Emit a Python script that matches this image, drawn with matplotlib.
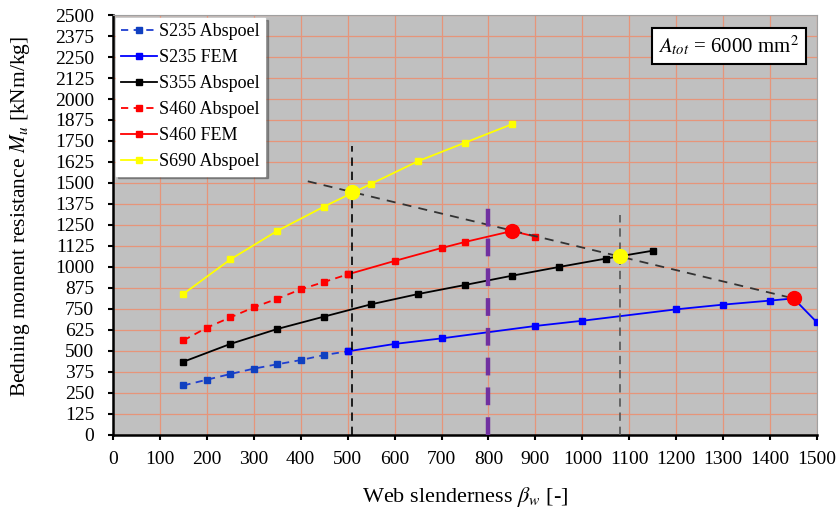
import matplotlib
matplotlib.use("Agg")
import matplotlib.pyplot as plt

plt.rcParams['font.family'] = ['Liberation Serif', 'DejaVu Serif']
plt.rcParams['mathtext.fontset'] = 'stix'

# --- data ---
s235_abs_x = [150, 200, 250, 300, 350, 400, 450, 500]
s235_abs_y = [295, 329, 363, 395, 421, 446, 476, 498]
s235_fem_x = [500, 600, 700, 900, 1000, 1200, 1300, 1400, 1450, 1500]
s235_fem_y = [498, 542, 575, 649, 680, 748, 776, 800, 813, 670]
s355_abs_x = [150, 250, 350, 450, 550, 650, 750, 850, 950, 1050, 1150]
s355_abs_y = [436, 542, 631, 705, 778, 839, 893, 948, 1000, 1050, 1097]
s460_abs_x = [150, 200, 250, 300, 350, 400, 450, 500]
s460_abs_y = [563, 639, 700, 760, 811, 867, 911, 956]
s460_fem_x = [500, 600, 700, 750, 850, 900]
s460_fem_y = [956, 1036, 1113, 1149, 1214, 1181]
s690_abs_x = [150, 250, 350, 450, 550, 650, 750, 850]
s690_abs_y = [840, 1045, 1215, 1360, 1495, 1630, 1740, 1850]

# optimum points (big circles)
opt_red_x = [850, 1450]
opt_red_y = [1214, 813]
opt_yel_x = [510, 1080]
opt_yel_y = [1445, 1063]

# limit line through the optima
limit_x = [415, 1450]
limit_y = [1510, 813]

# vertical markers
vline1_x, vline1_top = 510, 1720
vline2_x, vline2_top = 1080, 1310
vline3_x, vline3_top = 800, 1395

x_ticks = list(range(0, 1501, 100))
y_ticks = list(range(0, 2501, 125))

fig = plt.figure(figsize=(8.39, 5.12), dpi=100)
ax = fig.add_axes([0.1347, 0.1504, 0.8391, 0.8203])
ax.set_facecolor('#C0C0C0')

ax.set_xlim(0, 1500)
ax.set_ylim(0, 2500)
ax.set_xticks(x_ticks)
ax.set_yticks(y_ticks)
ax.grid(True, color='#E6957A', linewidth=0.9)
ax.set_axisbelow(True)

ms = 4.5
ax.plot(s235_abs_x, s235_abs_y, color='#1F3FD0', ls=(0, (4, 3)), lw=1.3,
        marker='s', ms=ms, mfc='#1040C0', mec='#1040C0', label='S235 Abspoel', zorder=3)
ax.plot(s235_fem_x, s235_fem_y, color='#0000FF', ls='-', lw=1.3,
        marker='s', ms=ms, label='S235 FEM', zorder=3)
ax.plot(s355_abs_x, s355_abs_y, color='black', ls='-', lw=1.3,
        marker='s', ms=ms, label='S355 Abspoel', zorder=3)
ax.plot(s460_abs_x, s460_abs_y, color='#FF0000', ls=(0, (4, 3)), lw=1.3,
        marker='s', ms=ms, label='S460 Abspoel', zorder=3)
ax.plot(s460_fem_x, s460_fem_y, color='#FF0000', ls='-', lw=1.3,
        marker='s', ms=ms, label='S460 FEM', zorder=3)
ax.plot(s690_abs_x, s690_abs_y, color='#FFFF00', ls='-', lw=1.3,
        marker='s', ms=ms, label='S690 Abspoel', zorder=3)

ax.plot(limit_x, limit_y, color='#333333', ls=(0, (5, 4)), lw=1.3, zorder=4)
ax.plot([vline1_x, vline1_x], [0, vline1_top], color='black', ls=(0, (5, 3.5)), lw=1.2, zorder=4)
ax.plot([vline2_x, vline2_x], [0, vline2_top], color='#555555', ls=(0, (5, 3.5)), lw=1.2, zorder=4)
ax.plot([vline3_x, vline3_x], [0, vline3_top], color='#7030A0', ls=(0, (4, 2.7)), lw=3.2, zorder=4)

ax.plot(opt_red_x, opt_red_y, ls='none', marker='o', ms=10, color='#FF0000', zorder=5)
ax.plot(opt_yel_x, opt_yel_y, ls='none', marker='o', ms=10, color='#FFFF00', zorder=5)

for s in ['top', 'right']:
    ax.spines[s].set_color('#A0A0A0')
for s in ['left', 'bottom']:
    ax.spines[s].set_linewidth(1.8)
ax.tick_params(direction='out', length=3.5, width=1.5, labelsize=14)
ax.tick_params(axis='y', pad=10)
ax.tick_params(axis='x', pad=8)

ax.set_xlabel(r'Web slenderness $\beta_w$ [-]', fontsize=16, labelpad=12)
ax.set_ylabel(r'Bedning moment resistance $M_u$ [kNm/kg]', fontsize=15.5)
ax.yaxis.set_label_coords(-0.115, 0.52)

leg = ax.legend(loc='upper left', fontsize=13, handlelength=2.0, handletextpad=0.1,
                borderaxespad=0.15, labelspacing=0.5, fancybox=False, shadow=True,
                framealpha=1, edgecolor='white', borderpad=0.3)
leg.set_zorder(10)

ax.text(0.975, 0.955, r'$A_{tot}$ = 6000 mm$^2$', transform=ax.transAxes,
        ha='right', va='top', fontsize=15, zorder=10,
        bbox=dict(boxstyle='square,pad=0.3', facecolor='white', edgecolor='black', lw=1.5))

fig.savefig('out.png', dpi=100)
